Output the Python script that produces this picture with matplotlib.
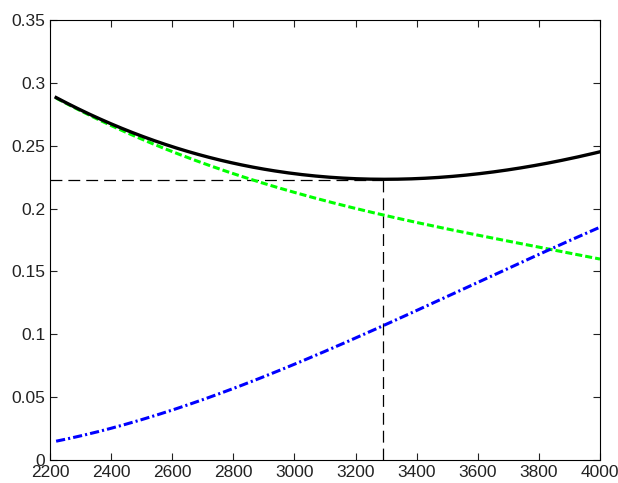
import numpy as np
import matplotlib
matplotlib.use('Agg')
import matplotlib.pyplot as plt

plt.rcParams['font.family'] = ['Liberation Sans', 'DejaVu Sans']

# values
x = [2220, 2400, 2600, 2800, 3000, 3200, 3400, 3600, 3800, 4000]
total = [0.288, 0.268, 0.249, 0.236, 0.228, 0.2235, 0.2235, 0.228, 0.235, 0.245]
part_a = [0.288, 0.266, 0.245, 0.228, 0.213, 0.200, 0.189, 0.179, 0.169, 0.160]
part_b = [0.015, 0.025, 0.040, 0.057, 0.076, 0.097, 0.119, 0.141, 0.164, 0.185]
x_opt = 3290
y_opt = 0.2225

# smooth the read points for drawing
xs = np.linspace(x[0], x[-1], 200)
def smooth(vals):
    c = np.polyfit(x, vals, 3)
    return np.polyval(c, xs)

fig = plt.figure(figsize=(6.18, 4.83), dpi=100)
ax = fig.add_axes([50/618, 23/483, 550/618, 440/483])

ax.plot([2200, x_opt], [y_opt, y_opt], color='black', lw=0.9, dashes=(9.5, 4.8))
ax.plot([x_opt, x_opt], [0, y_opt], color='black', lw=0.9, dashes=(9.5, 4.8))
ax.plot(xs, smooth(part_a), color='#00ff00', lw=2.2, dashes=(2.3, 1))
ax.plot(xs, smooth(part_b), color='blue', lw=2.2, dashes=(3, 1, 0.7, 1))
ax.plot(xs, smooth(total), color='black', lw=2.4)

ax.set_xlim(2200, 4000)
ax.set_ylim(0, 0.35)
ax.set_xticks(np.arange(2200, 4001, 200))
ax.set_yticks(np.arange(0, 0.351, 0.05))
ax.set_yticklabels(['0', '0.05', '0.1', '0.15', '0.2', '0.25', '0.3', '0.35'])
ax.tick_params(direction='in', top=True, right=True, labelsize=12.5, length=5,
               width=0.8, colors='#222222')
for s in ax.spines.values():
    s.set_linewidth(0.8)

fig.savefig('out.png', dpi=100)
